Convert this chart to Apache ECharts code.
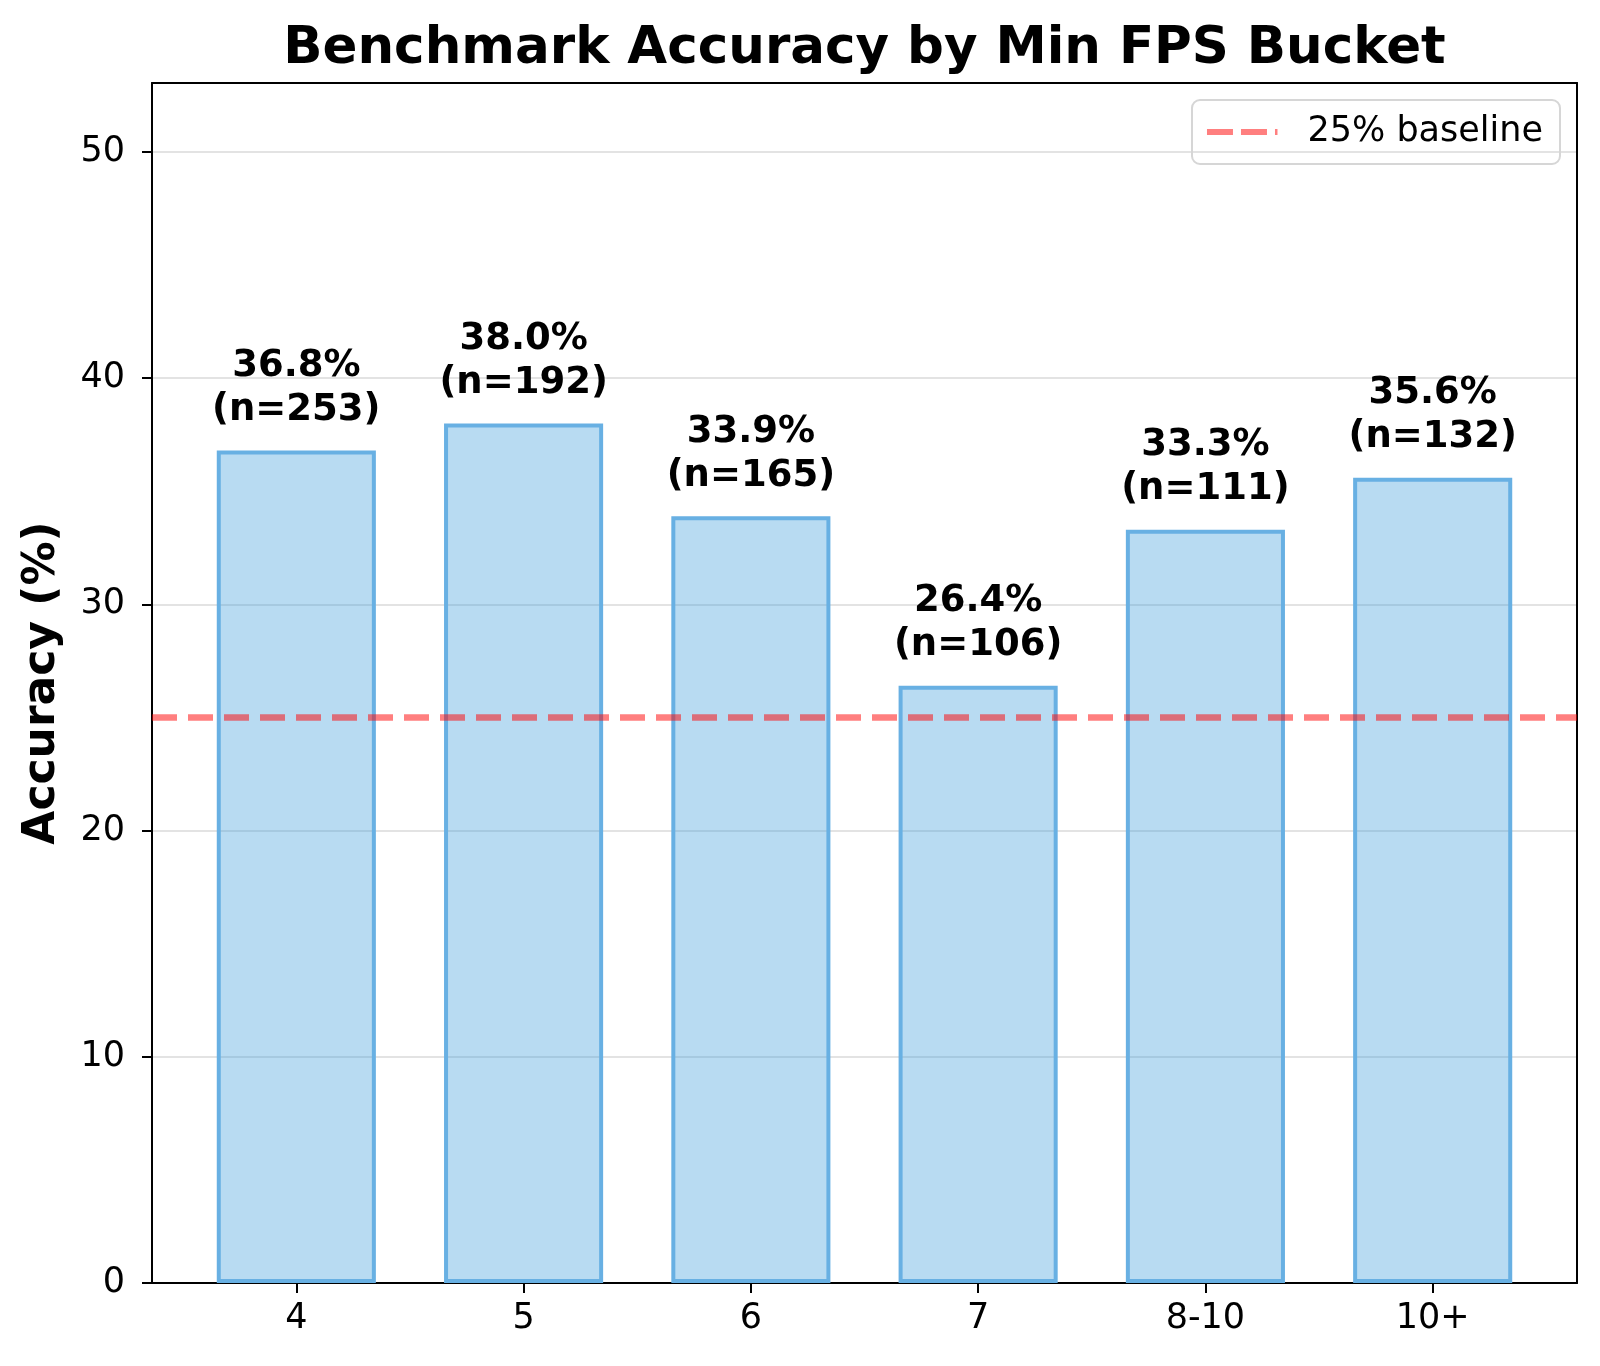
<!DOCTYPE html>
<html>
<head>
<meta charset="utf-8">
<title>Benchmark Accuracy by Min FPS Bucket</title>
<script src="https://cdn.jsdelivr.net/npm/echarts@6/dist/echarts.min.js"></script>
<style>
    html, body { margin: 0; padding: 0; background: #fff; }
    #container { width: 1600px; height: 1366px; }
</style>
</head>
<body>
<div id="container"></div>
<script>
var buckets = ['4', '5', '6', '7', '8-10', '10+'];
var accuracy = [36.8, 38.0, 33.9, 26.4, 33.3, 35.6];
var counts = [253, 192, 165, 106, 111, 132];
var baseline = 25;
var yTicks = [0, 10, 20, 30, 40, 50];

var font = 'DejaVu Sans';
var gridLeft = 152, gridRight = 23, gridTop = 83, gridBottom = 83;
var xMin = -0.635, xMax = buckets.length - 1 + 0.635;
var yMax = 53.05;
var plotWidth = 1600 - gridLeft - gridRight;
var barWidth = 0.7 * plotWidth / (xMax - xMin);

var barData = accuracy.map(function (v, i) { return [i, v]; });
var tickIdx = buckets.map(function (b, i) { return i; });

// dashed swatch for the legend (two dashes and a stub)
var dashIcon = 'path://M0,0h26v6h-26z M34,0h26v6h-26z M68,0h2.5v6h-2.5z';

function showChart() {
    var myChart = echarts.init(document.getElementById('container'));
    myChart.setOption({
        animation: false,
        backgroundColor: '#fff',
        title: {
            text: 'Benchmark Accuracy by Min FPS Bucket',
            left: gridLeft + plotWidth / 2 - 5,
            textAlign: 'center',
            top: 19,
            textStyle: { fontFamily: font, fontSize: 51.5, fontWeight: 'bold', color: '#000' }
        },
        legend: {
            data: [{ name: '25% baseline', icon: dashIcon }],
            right: 40,
            top: 100,
            padding: [12, 17, 12, 15],
            itemWidth: 70.5,
            itemHeight: 6.5,
            itemStyle: { color: 'rgba(255,0,0,0.5)' },
            borderColor: '#d6d6d6',
            borderWidth: 2,
            borderRadius: 8,
            textStyle: { fontFamily: font, fontSize: 35, color: '#000', padding: [0, 0, 0, 25], lineHeight: 40 }
        },
        grid: { left: gridLeft, right: gridRight, top: gridTop, bottom: gridBottom },
        xAxis: [{
            type: 'value',
            min: xMin,
            max: xMax,
            splitLine: { show: false },
            axisLine: { show: true, onZero: false, lineStyle: { color: '#000', width: 2 } },
            axisTick: { show: true, customValues: tickIdx, length: 10, lineStyle: { color: '#000', width: 2 } },
            axisLabel: {
                customValues: tickIdx,
                margin: 18,
                fontFamily: font, fontSize: 35, color: '#000',
                formatter: function (v) { return buckets[Math.round(v)]; }
            }
        }, {
            type: 'value',
            position: 'top',
            min: xMin,
            max: xMax,
            splitLine: { show: false },
            axisLine: { show: true, onZero: false, lineStyle: { color: '#000', width: 2 } },
            axisTick: { show: false },
            axisLabel: { show: false }
        }],
        yAxis: [{
            type: 'value',
            min: 0,
            max: yMax,
            interval: 10,
            name: 'Accuracy (%)',
            nameLocation: 'middle',
            nameGap: 87,
            nameTextStyle: { fontFamily: font, fontSize: 44, fontWeight: 'bold', color: '#000' },
            axisLine: { show: true, onZero: false, lineStyle: { color: '#000', width: 2 } },
            axisTick: { show: true, customValues: yTicks, length: 10, lineStyle: { color: '#000', width: 2 } },
            axisLabel: {
                customValues: yTicks,
                margin: 27,
                fontFamily: font, fontSize: 35, color: '#000'
            },
            splitLine: { show: true, lineStyle: { color: '#e3e3e3', width: 2 } }
        }, {
            type: 'value',
            position: 'right',
            min: 0,
            max: yMax,
            interval: 10,
            axisLine: { show: true, onZero: false, lineStyle: { color: '#000', width: 2 } },
            axisTick: { show: false },
            axisLabel: { show: false },
            splitLine: { show: false }
        }],
        series: [{
            name: 'Accuracy',
            type: 'bar',
            data: barData,
            barWidth: barWidth,
            itemStyle: {
                color: 'rgba(52,152,219,0.35)',
                borderColor: '#68b0e3',
                borderWidth: 4
            },
            label: {
                show: true,
                position: 'top',
                distance: 18,
                fontFamily: font,
                fontSize: 37,
                fontWeight: 'bold',
                lineHeight: 44,
                color: '#000',
                formatter: function (p) {
                    return accuracy[p.dataIndex].toFixed(1) + '%\n(n=' + counts[p.dataIndex] + ')';
                }
            },
            z: 2
        }, {
            name: '25% baseline',
            type: 'line',
            data: [],
            symbol: 'none',
            lineStyle: { color: 'rgba(255,0,0,0.5)', width: 6.5, type: [25, 11] },
            itemStyle: { color: 'rgba(255,0,0,0.5)' },
            markLine: {
                silent: true,
                symbol: ['none', 'none'],
                label: { show: false },
                lineStyle: { color: 'rgba(255,0,0,0.5)', width: 6.5, type: [25, 11] },
                data: [{ yAxis: baseline }]
            },
            z: 3
        }]
    });
    return myChart;
}

showChart();
</script>
</body>
</html>
